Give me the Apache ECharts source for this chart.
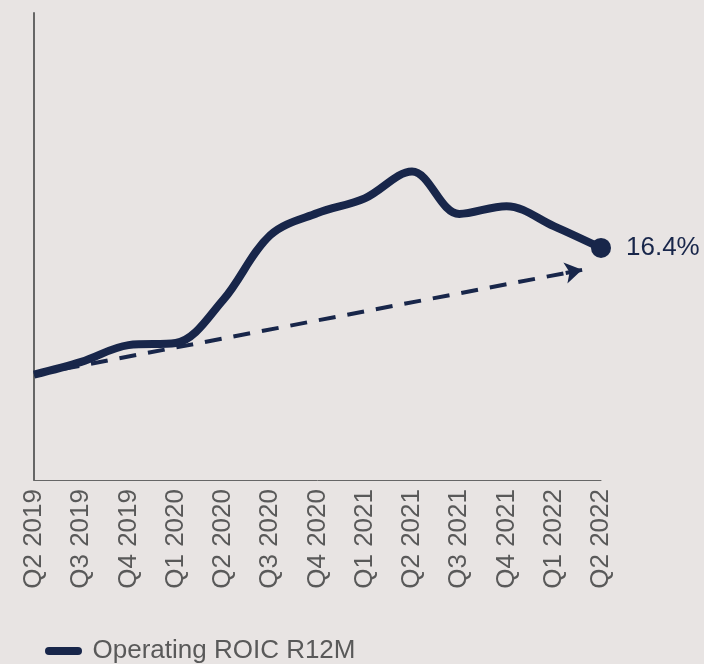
<!DOCTYPE html>
<html>
<head>
<meta charset="utf-8">
<style>
  html, body { margin: 0; padding: 0; background: #E8E4E3; }
  #chart { width: 704px; height: 664px; }
</style>
<script src="https://cdn.jsdelivr.net/npm/echarts@6/dist/echarts.min.js"></script>
</head>
<body>
<div id="chart"></div>
<script>
var quarters = ['Q2 2019', 'Q3 2019', 'Q4 2019', 'Q1 2020', 'Q2 2020', 'Q3 2020', 'Q4 2020',
  'Q1 2021', 'Q2 2021', 'Q3 2021', 'Q4 2021', 'Q1 2022', 'Q2 2022']
var roic = [7.45, 8.35, 9.53, 9.68, 12.71, 17.3, 18.86, 19.9, 21.8, 18.8, 19.35, 17.94, 16.4]
// trend arrow: start / end (x in quarter steps, y in %)
var trendStart = [0, 7.45]
var trendEnd = [11.6, 14.85]

var navy = '#18264A'
var grey = '#595959'
var font = ['Liberation Sans', 'Arial', 'sans-serif']

const chart = echarts.init(document.getElementById('chart'))

var lineData = roic.map(function (v, i) {
  if (i === roic.length - 1) {
    return {
      value: v,
      symbol: 'circle',
      symbolSize: 20,
      label: {
        show: true,
        position: 'right',
        distance: 15,
        formatter: v.toFixed(1) + '%',
        color: navy,
        fontSize: 26,
        fontFamily: font,
      },
    }
  }
  return v
})

// short solid piece at the end, so the arrow head is filled
var t = 0.97
var headStart = [trendStart[0] + (trendEnd[0] - trendStart[0]) * t, trendStart[1] + (trendEnd[1] - trendStart[1]) * t]

var option = {
  backgroundColor: '#E8E4E3',
  animation: false,
  grid: {
    left: 34,
    right: 103,
    top: 13,
    bottom: 184,
    containLabel: false,
  },
  legend: {
    data: [{ name: 'Operating ROIC R12M', icon: 'path://M4,0 H33 A4,4 0 0 1 33,8 H4 A4,4 0 0 1 4,0 Z' }],
    left: 40,
    top: 633,
    itemWidth: 38,
    itemHeight: 8,
    textStyle: {
      color: grey,
      fontSize: 26,
      fontFamily: font,
      padding: [0, 0, 0, 5],
    },
  },
  xAxis: [
    {
      type: 'category',
      boundaryGap: false,
      data: quarters,
      axisLine: { lineStyle: { color: '#666', width: 1 } },
      axisTick: { show: false },
      axisLabel: {
        rotate: 90,
        margin: 9,
        color: grey,
        fontSize: 26,
        fontFamily: font,
        interval: 0,
      },
    },
    {
      type: 'value',
      min: 0,
      max: 12,
      show: false,
    },
  ],
  yAxis: {
    type: 'value',
    min: 0,
    max: 33,
    axisLine: { show: true, lineStyle: { color: '#666', width: 2 } },
    axisTick: { show: false },
    axisLabel: { show: false },
    splitLine: { show: false },
  },
  series: [
    {
      name: 'trend',
      type: 'line',
      xAxisIndex: 1,
      data: [],
      markLine: {
        silent: true,
        symbol: ['none', 'none'],
        label: { show: false },
        lineStyle: { color: navy, width: 4, type: [17, 12] },
        data: [
          [{ coord: trendStart }, { coord: headStart }],
          [
            { coord: headStart, symbol: 'none', lineStyle: { type: 'solid', width: 4, color: navy } },
            { coord: trendEnd, symbol: 'arrow', symbolSize: [16, 17] },
          ],
        ],
      },
    },
    {
      name: 'Operating ROIC R12M',
      type: 'line',
      smooth: 0.35,
      symbol: 'none',
      data: lineData,
      color: navy,
      itemStyle: { color: navy },
      lineStyle: { width: 8, color: navy },
      z: 3,
    },
  ],
}
chart.setOption(option)
</script>
</body>
</html>
